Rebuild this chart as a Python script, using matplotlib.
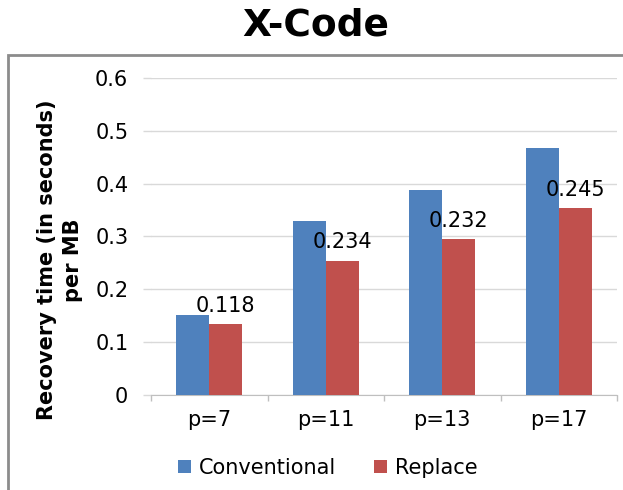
import matplotlib.pyplot as plt
import numpy as np
from matplotlib.patches import Rectangle

plt.rcParams['font.family'] = ['DejaVu Sans']

categories = ['p=7', 'p=11', 'p=13', 'p=17']
conventional = [0.151, 0.329, 0.388, 0.468]
replace = [0.134, 0.254, 0.295, 0.354]
bar_labels = ['0.118', '0.234', '0.232', '0.245']

BLUE = '#4F81BD'
RED = '#C0504D'


def main():
	fig = plt.figure(figsize=(6.23, 4.90), dpi=100)
	ax = fig.add_axes([151 / 623, 1 - 395 / 490, (617 - 151) / 623, (395 - 78) / 490])

	# outer frame like the spreadsheet chart border
	fig.patches.append(Rectangle((8 / 623, -0.05), 1.1, 1 - 55 / 490 + 0.05,
		transform=fig.transFigure, fill=False, edgecolor='#8c8c8c', linewidth=2))

	x = np.arange(len(categories))
	w = 0.283
	ax.bar(x - w / 2, conventional, w, color=BLUE, label='Conventional', zorder=3)
	bars = ax.bar(x + w / 2, replace, w, color=RED, label='Replace', zorder=3)

	for b, txt in zip(bars, bar_labels):
		ax.annotate(txt, (b.get_x() + b.get_width() / 2, b.get_height()),
			xytext=(0, 6), textcoords='offset points', ha='center', va='bottom', fontsize=15)

	ax.set_xlim(-0.5, len(categories) - 0.5)
	ax.set_ylim(0, 0.6)
	ax.set_yticks(np.arange(0, 0.61, 0.1))
	ax.set_yticklabels(['0', '0.1', '0.2', '0.3', '0.4', '0.5', '0.6'])
	ax.set_xticks(x)
	ax.set_xticklabels(categories)
	ax.set_xticks(np.arange(-0.5, len(categories), 1), minor=True)
	ax.tick_params(axis='x', which='major', length=0, labelsize=15, pad=11)
	ax.tick_params(axis='x', which='minor', length=4.5, color='#bfbfbf', width=1)
	ax.tick_params(axis='y', length=5.8, color='#d9d9d9', width=1, labelsize=15, pad=10.5)
	ax.yaxis.grid(True, color='#d9d9d9', linewidth=1, zorder=0)
	ax.set_axisbelow(True)
	for s in ['top', 'right', 'left']:
		ax.spines[s].set_visible(False)
	ax.spines['bottom'].set_color('#bfbfbf')

	fig.text(315.5 / 623, 1 - 25 / 490, 'X-Code', ha='center', va='center',
		fontsize=27, fontweight='bold')
	fig.text(60 / 623, 1 - 260 / 490, 'Recovery time (in seconds)\nper MB', rotation=90,
		ha='center', va='center', multialignment='center', fontsize=15, fontweight='bold',
		linespacing=1.35)

	fig.legend(loc='center', bbox_to_anchor=(328 / 623, 1 - 468 / 490), ncol=2,
		frameon=False, fontsize=15, handlelength=0.6, handleheight=0.6,
		handletextpad=0.4, columnspacing=1.8)

	fig.savefig('out.png', dpi=100)


if __name__ == '__main__':
	main()
